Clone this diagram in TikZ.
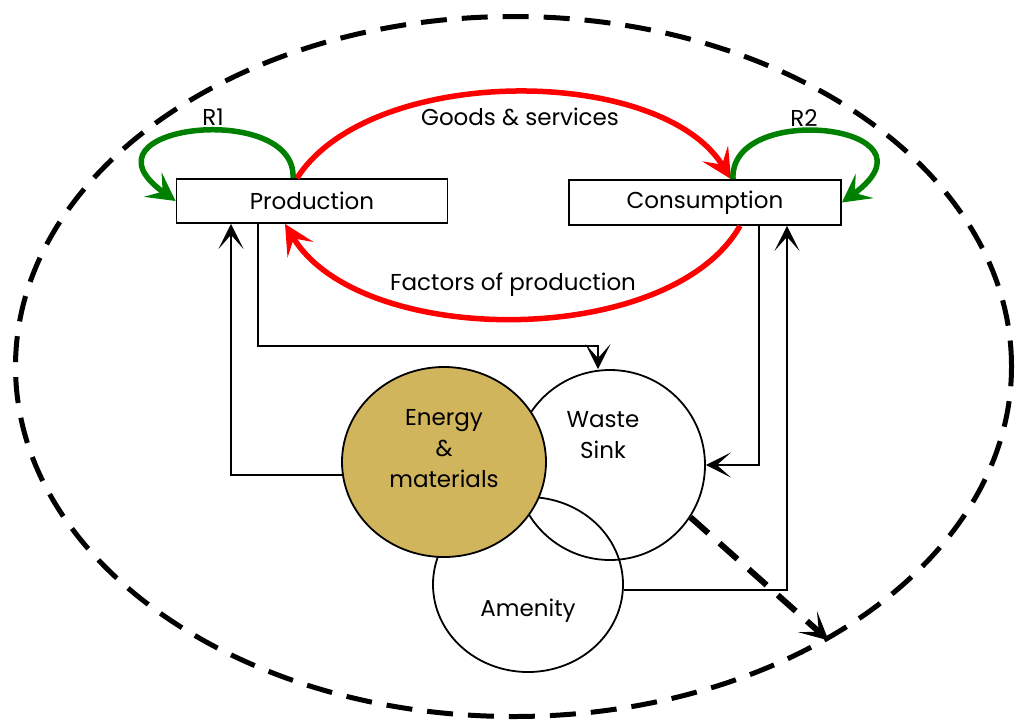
\documentclass[tikz,border=0pt]{standalone}
\usepackage{fontspec}
\setmainfont{Poppins}
\usetikzlibrary{arrows.meta,shapes.geometric}
\definecolor{goldfill}{RGB}{208,181,92}
\definecolor{flowred}{RGB}{255,0,0}
\definecolor{loopgreen}{RGB}{0,128,0}
\begin{document}
\begin{tikzpicture}[x=1pt,y=-1pt,
  txt/.style={font=\fontsize{23}{31}\selectfont, inner sep=0pt, align=center},
  sector/.style={draw, fill=white, line width=1.8pt, minimum width=271pt,
    minimum height=44pt, inner sep=0pt, font=\fontsize{23}{31}\selectfont},
  pool/.style={draw, ellipse, line width=1.8pt, inner sep=0pt},
  link/.style={line width=2pt, -{Stealth[length=25pt,width=25pt,inset=14pt]}},
  redflow/.style={draw=flowred, line width=5.5pt,
    -{Stealth[length=30pt,width=30pt,inset=13pt]}},
  greenloop/.style={draw=loopgreen, line width=5.5pt,
    -{Stealth[length=28pt,width=30pt,inset=12pt]}},
  outflow/.style={line width=6pt, dash pattern=on 24pt off 15pt,
    -{Stealth[length=28pt,width=28pt,inset=15pt]}},
]
\useasboundingbox (0,0) rectangle (1016,723);

% system boundary
\node[draw, ellipse, line width=5pt, dash pattern=on 26pt off 15pt,
  minimum width=996pt, minimum height=700pt, inner sep=0pt] (env) at (513.5,366.5) {};

% economic sectors
\node[sector] (prod) at (312,201) {Production};
\node[sector, minimum width=272pt, minimum height=45pt] (cons) at (705,202.5) {Consumption};

% environmental functions
\node[pool, minimum width=190pt, minimum height=190pt] (waste) at (610,465) {};
\node[pool, minimum width=190pt, minimum height=175pt] (amenity) at (528,584.5) {};
\node[pool, fill=goldfill, minimum width=204pt, minimum height=190pt] (energy) at (444,462) {};

\node[txt] (energyText) at (444,449) {Energy\\\&\\materials};
\node[txt] (wasteText) at (603,435) {Waste\\Sink};
\node[txt] (amenityText) at (528,611) {Amenity};

% circular flow
\draw[redflow] ([xshift=-15pt]prod.north) .. controls (370,64) and (660,64) .. ([xshift=26pt]cons.north);
\draw[redflow] ([xshift=35pt]cons.south) .. controls (670,349) and (360,349) .. ([xshift=-27pt]prod.south);
\node[txt] (goods) at (520,117) {Goods \& services};
\node[txt] (factors) at (513,285) {Factors of production};

% recycling loops
\draw[greenloop] ([xshift=-19pt]prod.north) .. controls (297,100) and (70,125) .. (prod.west);
\draw[greenloop] ([xshift=28pt]cons.north) .. controls (729,100) and (948,125) .. (cons.east);
\node[txt] (r1) at (213,117) {R1};
\node[txt] (r2) at (804,118) {R2};

% material links
\draw[link] (energy.187) -| ([xshift=-81pt]prod.south);
\draw[link] ([xshift=-54pt]prod.south) -- ++(0,122) -| ([xshift=-12pt]waste.north);
\draw[link] ([xshift=54pt]cons.south) |- (waste.east);
\draw[link] (amenity.-3) -| ([xshift=82pt]cons.south);

% dissipation out of the system
\draw[outflow] (waste.-33) -- (env.-41.7);
\end{tikzpicture}
\end{document}
